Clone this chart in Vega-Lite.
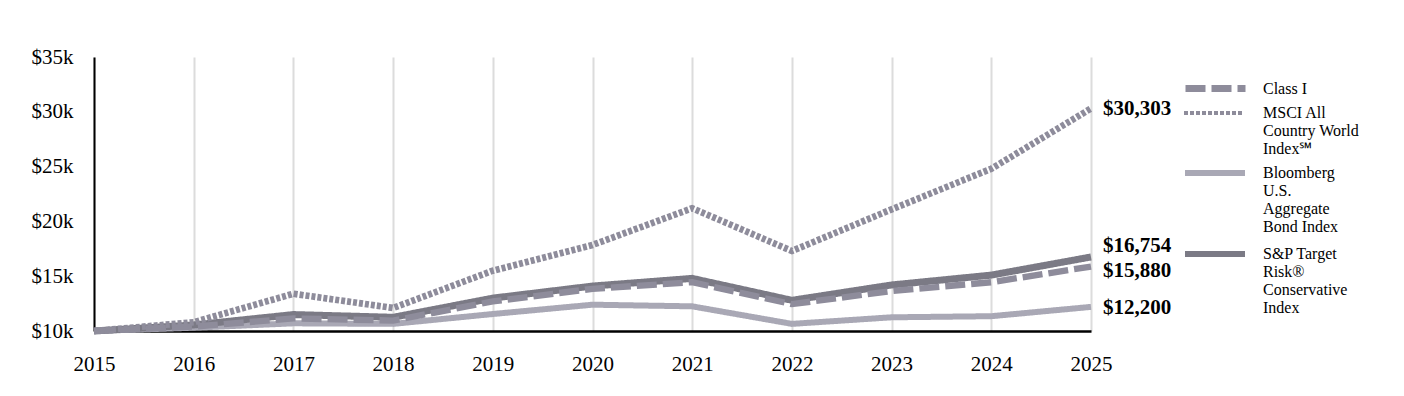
{
  "$schema": "https://vega.github.io/schema/vega-lite/v6.json",
  "width": 997,
  "height": 274,
  "autosize": {"type": "none"},
  "padding": {"left": 94, "top": 57, "right": 313, "bottom": 65},
  "background": "white",
  "config": {
    "view": {"stroke": null},
    "font": "Liberation Serif",
    "text": {"font": "Liberation Serif"},
    "legend": {
      "title": null, "orient": "none", "legendX": 1108,
      "symbolType": "M-3,0H3", "symbolSize": 400,
      "labelFont": "Liberation Serif", "labelFontSize": 16, "labelColor": "#000000",
      "labelLineHeight": 16, "labelBaseline": "alphabetic", "labelOffset": 33,
      "labelLimit": 300
    }
  },
  "data": {
    "values": [
      {"year": 2015, "series": "Bloomberg|U.S.|Aggregate|Bond Index", "value": 10000},
      {"year": 2016, "series": "Bloomberg|U.S.|Aggregate|Bond Index", "value": 10300},
      {"year": 2017, "series": "Bloomberg|U.S.|Aggregate|Bond Index", "value": 10700},
      {"year": 2018, "series": "Bloomberg|U.S.|Aggregate|Bond Index", "value": 10650},
      {"year": 2019, "series": "Bloomberg|U.S.|Aggregate|Bond Index", "value": 11550},
      {"year": 2020, "series": "Bloomberg|U.S.|Aggregate|Bond Index", "value": 12400},
      {"year": 2021, "series": "Bloomberg|U.S.|Aggregate|Bond Index", "value": 12250},
      {"year": 2022, "series": "Bloomberg|U.S.|Aggregate|Bond Index", "value": 10650},
      {"year": 2023, "series": "Bloomberg|U.S.|Aggregate|Bond Index", "value": 11250},
      {"year": 2024, "series": "Bloomberg|U.S.|Aggregate|Bond Index", "value": 11350},
      {"year": 2025, "series": "Bloomberg|U.S.|Aggregate|Bond Index", "value": 12200},
      {"year": 2015, "series": "S&P Target|Risk®|Conservative|Index", "value": 10000},
      {"year": 2016, "series": "S&P Target|Risk®|Conservative|Index", "value": 10550},
      {"year": 2017, "series": "S&P Target|Risk®|Conservative|Index", "value": 11500},
      {"year": 2018, "series": "S&P Target|Risk®|Conservative|Index", "value": 11250},
      {"year": 2019, "series": "S&P Target|Risk®|Conservative|Index", "value": 13000},
      {"year": 2020, "series": "S&P Target|Risk®|Conservative|Index", "value": 14100},
      {"year": 2021, "series": "S&P Target|Risk®|Conservative|Index", "value": 14800},
      {"year": 2022, "series": "S&P Target|Risk®|Conservative|Index", "value": 12800},
      {"year": 2023, "series": "S&P Target|Risk®|Conservative|Index", "value": 14200},
      {"year": 2024, "series": "S&P Target|Risk®|Conservative|Index", "value": 15100},
      {"year": 2025, "series": "S&P Target|Risk®|Conservative|Index", "value": 16754},
      {"year": 2015, "series": "Class I", "value": 10000},
      {"year": 2016, "series": "Class I", "value": 10400},
      {"year": 2017, "series": "Class I", "value": 11150},
      {"year": 2018, "series": "Class I", "value": 10950},
      {"year": 2019, "series": "Class I", "value": 12700},
      {"year": 2020, "series": "Class I", "value": 13850},
      {"year": 2021, "series": "Class I", "value": 14450},
      {"year": 2022, "series": "Class I", "value": 12450},
      {"year": 2023, "series": "Class I", "value": 13650},
      {"year": 2024, "series": "Class I", "value": 14450},
      {"year": 2025, "series": "Class I", "value": 15880},
      {"year": 2015, "series": "MSCI All|Country World|Index℠", "value": 10000},
      {"year": 2016, "series": "MSCI All|Country World|Index℠", "value": 10800},
      {"year": 2017, "series": "MSCI All|Country World|Index℠", "value": 13400},
      {"year": 2018, "series": "MSCI All|Country World|Index℠", "value": 12100},
      {"year": 2019, "series": "MSCI All|Country World|Index℠", "value": 15500},
      {"year": 2020, "series": "MSCI All|Country World|Index℠", "value": 17850},
      {"year": 2021, "series": "MSCI All|Country World|Index℠", "value": 21200},
      {"year": 2022, "series": "MSCI All|Country World|Index℠", "value": 17300},
      {"year": 2023, "series": "MSCI All|Country World|Index℠", "value": 21100},
      {"year": 2024, "series": "MSCI All|Country World|Index℠", "value": 24800},
      {"year": 2025, "series": "MSCI All|Country World|Index℠", "value": 30303}
    ]
  },
  "encoding": {
    "x": {
      "field": "year", "type": "quantitative",
      "scale": {"domain": [2015, 2025], "nice": false, "zero": false},
      "axis": {
        "title": null, "format": "d", "values": [2015,2016,2017,2018,2019,2020,2021,2022,2023,2024,2025],
        "grid": true, "gridColor": "#dcdcdc", "gridWidth": 2,
        "ticks": false, "domainColor": "#000000", "domainWidth": 2.5,
        "labelFont": "Liberation Serif", "labelFontSize": 21, "labelColor": "#000000",
        "labelPadding": 22, "labelFlush": false
      }
    },
    "y": {
      "field": "value", "type": "quantitative",
      "scale": {"domain": [10000, 35000], "nice": false, "zero": false},
      "axis": {
        "title": null, "values": [10000,15000,20000,25000,30000,35000],
        "labelExpr": "'$' + (datum.value/1000) + 'k'",
        "grid": false, "ticks": false, "domainColor": "#000000", "domainWidth": 2,
        "labelFont": "Liberation Serif", "labelFontSize": 21, "labelColor": "#000000",
        "labelPadding": 21
      }
    }
  },
  "layer": [
    {
      "mark": {"type": "line", "strokeCap": "butt", "strokeJoin": "miter"},
      "encoding": {
        "stroke": {
          "field": "series", "type": "nominal",
          "scale": {
            "domain": ["Class I", "MSCI All|Country World|Index℠", "Bloomberg|U.S.|Aggregate|Bond Index", "S&P Target|Risk®|Conservative|Index"],
            "range": ["#8e8c9b", "#8e8c9b", "#a9a8b5", "#7b7a85"]
          },
          "legend": {
            "values": ["Class I"], "legendY": 18, "labelOffset": 34,
            "labelExpr": "split(datum.label, '|')",
            "encode": {
              "labels": {"update": {"dy": {"value": 5}}},
              "symbols": {"update": {"stroke": {"value": "#8e8c9b"}, "strokeDash": {"value": [20, 6]}, "strokeWidth": {"value": 7}, "opacity": {"value": 1}}}
            }
          }
        },
        "strokeDash": {
          "field": "series", "type": "nominal",
          "scale": {
            "domain": ["MSCI All|Country World|Index℠", "Class I", "Bloomberg|U.S.|Aggregate|Bond Index", "S&P Target|Risk®|Conservative|Index"],
            "range": [[4, 2], [20, 6], [1, 0], [1, 0]]
          },
          "legend": {
            "values": ["MSCI All|Country World|Index℠"], "legendY": 44, "labelOffset": 37,
            "labelExpr": "split(datum.label, '|')",
            "encode": {
              "labels": {"update": {"dy": {"value": 5}}},
              "symbols": {"update": {"stroke": {"value": "#8e8c9b"}, "strokeDash": {"value": [4, 2]}, "strokeWidth": {"value": 4}, "opacity": {"value": 1}}}
            }
          }
        },
        "strokeWidth": {
          "field": "series", "type": "nominal",
          "scale": {
            "domain": ["Bloomberg|U.S.|Aggregate|Bond Index", "Class I", "MSCI All|Country World|Index℠", "S&P Target|Risk®|Conservative|Index"],
            "range": [6, 7, 4, 6]
          },
          "legend": {
            "values": ["Bloomberg|U.S.|Aggregate|Bond Index"], "legendY": 103, "labelOffset": 35,
            "labelExpr": "split(datum.label, '|')",
            "encode": {
              "labels": {"update": {"dy": {"value": 5}}},
              "symbols": {"update": {"stroke": {"value": "#a9a8b5"}, "strokeDash": {"value": [1, 0]}, "strokeWidth": {"value": 6}, "opacity": {"value": 1}}}
            }
          }
        },
        "opacity": {
          "field": "series", "type": "ordinal",
          "scale": {
            "domain": ["S&P Target|Risk®|Conservative|Index", "Class I", "MSCI All|Country World|Index℠", "Bloomberg|U.S.|Aggregate|Bond Index"],
            "range": [1, 1, 1, 1]
          },
          "legend": {
            "values": ["S&P Target|Risk®|Conservative|Index"], "legendY": 184, "labelOffset": 35,
            "labelExpr": "split(datum.label, '|')",
            "encode": {
              "labels": {"update": {"dy": {"value": 5}}},
              "symbols": {"update": {"stroke": {"value": "#7b7a85"}, "strokeDash": {"value": [1, 0]}, "strokeWidth": {"value": 6}, "opacity": {"value": 1}}}
            }
          }
        }
      }
    },
    {
      "transform": [{"filter": "datum.year == 2025 && datum.series == 'S&P Target|Risk®|Conservative|Index'"}],
      "mark": {"type": "text", "align": "left", "baseline": "middle", "dx": 12, "dy": -11, "fontSize": 21, "fontWeight": "bold", "font": "Liberation Serif", "color": "#000000"},
      "encoding": {"text": {"field": "value", "type": "quantitative", "format": "$,.0f"}}
    },
    {
      "transform": [{"filter": "datum.year == 2025 && datum.series == 'Class I'"}],
      "mark": {"type": "text", "align": "left", "baseline": "middle", "dx": 12, "dy": 4, "fontSize": 21, "fontWeight": "bold", "font": "Liberation Serif", "color": "#000000"},
      "encoding": {"text": {"field": "value", "type": "quantitative", "format": "$,.0f"}}
    },
    {
      "transform": [{"filter": "datum.year == 2025 && datum.series != 'Class I' && datum.series != 'S&P Target|Risk®|Conservative|Index'"}],
      "mark": {"type": "text", "align": "left", "baseline": "middle", "dx": 12, "dy": 1, "fontSize": 21, "fontWeight": "bold", "font": "Liberation Serif", "color": "#000000"},
      "encoding": {"text": {"field": "value", "type": "quantitative", "format": "$,.0f"}}
    }
  ]
}
